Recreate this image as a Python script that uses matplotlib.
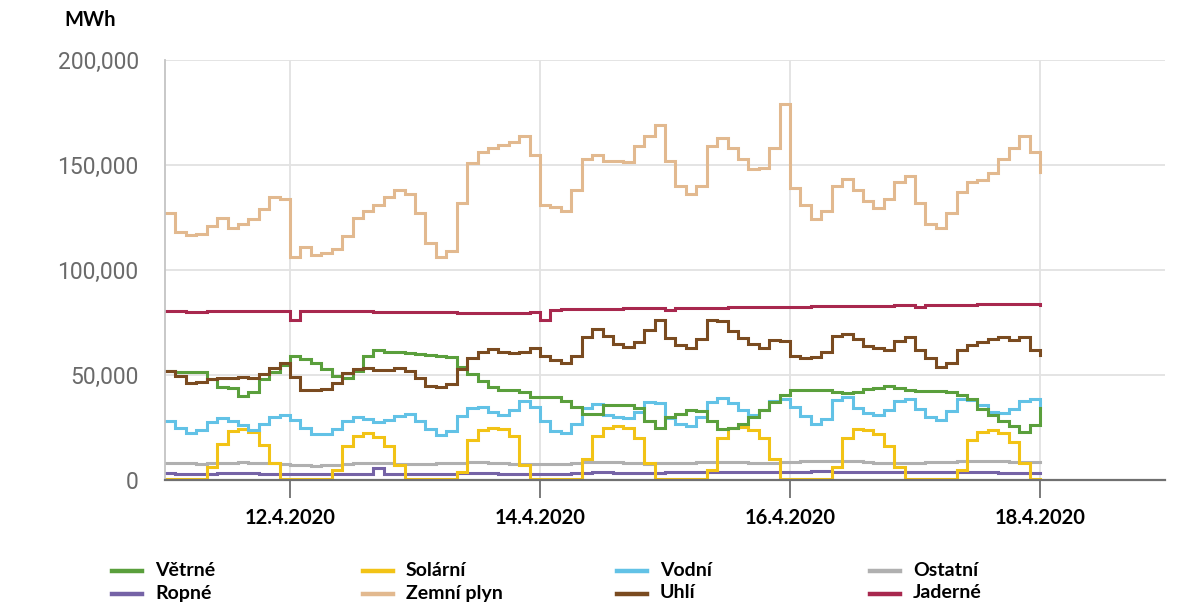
# -*- coding:utf-8 -*-
import numpy as np
import pandas as pd
import matplotlib
matplotlib.use('Agg')
import matplotlib.pyplot as plt
from matplotlib.lines import Line2D
from matplotlib.ticker import FuncFormatter

plt.rcParams['font.family'] = ['Lato', 'DejaVu Sans']

# 2-hodinové hodnoty od 11.4.2020 00:00 do 18.4.2020 00:00, v tisících MWh
start = '2020-04-11 00:00'

vetrne = [52.0, 51.4, 51.4, 51.4, 48.0, 44.5, 43.8, 40.0, 42.0, 48.0, 51.5, 55.0,
          59.0, 57.5, 55.5, 53.0, 49.5, 48.6, 52.0, 59.0, 61.9, 61.0, 61.0, 60.5,
          60.0, 59.5, 59.0, 58.5, 54.0, 50.5, 47.0, 44.5, 43.0, 43.0, 42.0, 39.5,
          39.5, 39.5, 37.5, 35.0, 31.5, 31.5, 35.5, 35.7, 35.7, 34.5, 28.0, 25.0,
          30.0, 31.5, 33.5, 33.0, 28.0, 24.5, 25.0, 26.5, 30.0, 33.5, 37.0, 40.5,
          43.0, 43.0, 42.9, 42.9, 42.0, 41.4, 42.0, 43.3, 44.0, 45.0, 44.0, 42.9,
          42.5, 42.4, 42.2, 41.9, 40.5, 38.5, 34.0, 31.0, 28.0, 25.5, 23.0, 26.0,
          34.5]

solarni = [0.5, 0.5, 0.5, 0.5, 6.0, 17.0, 23.5, 24.5, 23.0, 16.5, 8.0, 0.5,
           0.5, 0.5, 0.5, 0.5, 5.0, 16.0, 21.0, 22.4, 20.5, 16.0, 7.0, 0.5,
           0.5, 0.5, 0.5, 0.5, 4.0, 19.0, 24.0, 25.0, 24.5, 21.0, 7.0, 0.5,
           0.5, 0.5, 0.5, 0.5, 10.0, 21.0, 25.0, 25.7, 25.0, 20.0, 8.0, 0.5,
           0.5, 0.5, 0.5, 0.5, 5.0, 20.0, 25.0, 25.2, 24.0, 20.0, 10.0, 0.5,
           0.5, 0.5, 0.5, 0.5, 6.0, 20.0, 24.5, 24.0, 22.0, 16.0, 6.0, 0.5,
           0.5, 0.5, 0.5, 0.5, 5.0, 19.0, 23.0, 23.8, 22.5, 18.0, 8.0, 0.5,
           0.5]

vodni = [28.0, 25.0, 22.5, 24.0, 27.5, 29.5, 28.0, 26.0, 24.0, 26.5, 30.0, 31.0,
         28.6, 25.0, 22.0, 22.0, 24.5, 28.0, 30.0, 29.0, 27.6, 28.5, 30.5, 31.5,
         28.0, 24.5, 21.5, 23.5, 30.5, 34.5, 35.0, 32.5, 31.0, 33.5, 37.5, 35.0,
         28.0, 23.5, 22.5, 26.5, 34.5, 36.0, 31.0, 30.0, 29.5, 32.5, 37.0, 36.5,
         29.5, 26.5, 25.5, 30.0, 37.0, 39.0, 36.5, 33.5, 31.0, 33.5, 37.5, 38.5,
         35.0, 30.5, 26.5, 29.0, 38.0, 39.5, 34.5, 32.0, 31.0, 33.5, 37.5, 38.5,
         34.0, 30.0, 28.6, 33.0, 38.5, 38.0, 35.5, 32.5, 31.9, 34.0, 37.5, 38.5,
         35.0]

ostatni = [8.3, 8.1, 7.9, 7.8, 7.9, 8.1, 8.3, 8.4, 8.3, 8.1, 7.9, 7.6,
           7.3, 7.0, 6.9, 7.0, 7.3, 7.7, 8.0, 8.2, 8.2, 8.0, 7.8, 7.6,
           7.6, 7.7, 7.9, 8.1, 8.3, 8.4, 8.4, 8.2, 8.0, 7.8, 7.7, 7.6,
           7.5, 7.6, 7.8, 8.1, 8.4, 8.6, 8.6, 8.4, 8.1, 7.9, 7.8, 7.9,
           8.0, 8.1, 8.3, 8.5, 8.7, 8.8, 8.7, 8.5, 8.3, 8.2, 8.3, 8.5,
           8.7, 8.9, 9.1, 9.2, 9.2, 9.1, 8.9, 8.6, 8.3, 8.1, 8.0, 8.1,
           8.2, 8.4, 8.6, 8.8, 9.0, 9.1, 9.1, 9.0, 8.9, 8.8, 8.7, 8.6,
           8.6]

ropne = [3.2, 3.1, 3.0, 3.0, 3.1, 3.2, 3.3, 3.3, 3.2, 3.1, 3.0, 2.9,
         2.8, 2.7, 2.7, 2.8, 2.9, 3.0, 3.1, 3.1, 5.7, 3.0, 2.9, 2.8,
         2.8, 2.9, 3.0, 3.1, 3.2, 3.3, 3.3, 3.2, 3.1, 3.0, 2.9, 2.9,
         2.9, 3.0, 3.1, 3.2, 3.4, 3.6, 3.6, 3.5, 3.4, 3.3, 3.4, 3.5,
         3.6, 3.7, 3.8, 3.9, 4.0, 4.0, 3.9, 3.8, 3.7, 3.7, 3.8, 3.9,
         4.0, 4.0, 4.1, 4.1, 4.0, 3.9, 3.8, 3.7, 3.6, 3.6, 3.7, 3.8,
         3.9, 4.0, 4.0, 3.9, 3.8, 3.7, 3.6, 3.6, 3.5, 3.5, 3.4, 3.4,
         3.4]

zemni_plyn = [127.0, 118.0, 116.5, 117.0, 121.0, 125.0, 120.0, 122.0, 124.5, 129.0, 135.0, 134.0,
              106.0, 111.0, 107.0, 108.0, 110.0, 116.0, 125.0, 128.0, 131.0, 135.0, 138.0, 136.0,
              127.0, 113.0, 106.0, 109.0, 132.0, 151.0, 156.0, 158.0, 159.5, 161.0, 164.0, 155.0,
              131.0, 130.0, 128.0, 138.0, 153.0, 155.0, 152.0, 152.0, 151.5, 159.0, 164.0, 169.0,
              152.0, 140.0, 136.0, 140.0, 159.0, 163.0, 158.0, 153.0, 148.0, 148.5, 158.0, 179.0,
              139.0, 131.0, 124.5, 128.0, 140.0, 143.5, 138.0, 133.0, 129.5, 134.0, 142.0, 145.0,
              132.0, 122.0, 120.0, 127.0, 137.0, 142.0, 143.0, 146.0, 153.0, 158.0, 164.0, 156.0,
              146.7]

uhli = [52.0, 49.5, 46.0, 46.5, 48.0, 48.5, 48.5, 49.0, 48.5, 50.5, 53.5, 55.5,
        49.0, 43.0, 43.0, 43.5, 46.0, 51.0, 53.0, 53.5, 52.5, 52.5, 53.5, 52.0,
        48.5, 45.0, 44.3, 45.5, 53.0, 58.0, 61.0, 62.5, 61.0, 60.5, 61.0, 63.0,
        59.0, 57.0, 55.5, 59.0, 68.0, 72.0, 68.5, 65.0, 63.5, 65.5, 71.5, 76.0,
        67.5, 64.5, 63.0, 67.0, 76.0, 75.5, 71.0, 67.5, 65.0, 63.0, 66.5, 66.0,
        59.0, 58.3, 58.5, 61.0, 68.5, 69.5, 67.0, 64.0, 63.0, 62.0, 66.0, 68.0,
        62.0, 58.0, 54.0, 55.5, 62.0, 64.3, 65.5, 67.0, 68.0, 66.5, 68.0, 62.0,
        59.5]

jaderne = [80.3, 80.3, 80.2, 80.2, 80.3, 80.4, 80.4, 80.5, 80.5, 80.5, 80.5, 80.4,
           76.3, 80.5, 80.5, 80.4, 80.4, 80.3, 80.3, 80.3, 80.2, 80.2, 80.1, 80.1,
           80.0, 80.0, 79.9, 79.8, 79.7, 79.6, 79.5, 79.5, 79.5, 79.5, 79.6, 79.8,
           76.3, 81.0, 81.2, 81.3, 81.4, 81.5, 81.6, 81.6, 81.7, 81.7, 81.8, 81.8,
           80.8, 81.9, 82.0, 82.0, 82.1, 82.1, 82.2, 82.2, 82.3, 82.3, 82.4, 82.4,
           82.5, 82.6, 82.7, 82.7, 82.8, 82.9, 83.0, 83.0, 83.1, 83.1, 83.2, 83.2,
           82.4, 83.3, 83.3, 83.4, 83.5, 83.5, 83.6, 83.6, 83.7, 83.7, 83.8, 83.8,
           83.5]

# pořadí v legendě po řádcích
series = [
    ('Větrné', vetrne, '#5a9f3c'),
    ('Solární', solarni, '#f2c316'),
    ('Vodní', vodni, '#62c2e6'),
    ('Ostatní', ostatni, '#b0b0b0'),
    ('Ropné', ropne, '#7563a6'),
    ('Zemní plyn', zemni_plyn, '#e2b98f'),
    ('Uhlí', uhli, '#7a4b20'),
    ('Jaderné', jaderne, '#a8284e'),
]

tick_dates = ['2020-04-12', '2020-04-14', '2020-04-16', '2020-04-18']
tick_labels = ['12.4.2020', '14.4.2020', '16.4.2020', '18.4.2020']
y_ticks = [0, 50000, 100000, 150000, 200000]


def main():
    times = pd.date_range(start, periods=len(vetrne), freq='2h')

    fig = plt.figure(figsize=(11.77, 6.08), dpi=100)
    ax = fig.add_axes([0.1402, 0.2105, 0.8496, 0.6908])

    draw_order = ['Ostatní', 'Ropné', 'Solární', 'Vodní', 'Větrné', 'Uhlí', 'Jaderné', 'Zemní plyn']
    lookup = {name: (vals, color) for name, vals, color in series}
    for name in draw_order:
        vals, color = lookup[name]
        ax.plot(times, np.array(vals) * 1000, color=color, lw=2.2,
                drawstyle='steps-post', solid_joinstyle='miter')

    ax.set_xlim(pd.Timestamp('2020-04-11'), pd.Timestamp('2020-04-19'))
    ax.set_ylim(0, 200000)
    ax.set_yticks(y_ticks)
    ax.yaxis.set_major_formatter(FuncFormatter(lambda v, p: f'{int(v):,}'))
    ax.set_xticks([pd.Timestamp(d) for d in tick_dates])
    ax.set_xticklabels(tick_labels)

    ax.grid(True, color='#e2e2e2', lw=1.3)
    ax.set_axisbelow(True)
    for s in ['top', 'right']:
        ax.spines[s].set_visible(False)
    ax.spines['left'].set_color('#c4c4c4')
    ax.spines['left'].set_linewidth(1.3)
    ax.spines['bottom'].set_color('#707070')
    ax.spines['bottom'].set_linewidth(1.6)

    ax.tick_params(axis='y', length=0, pad=19, labelsize=16.5, labelcolor='#6a6a6a')
    ax.tick_params(axis='x', length=13, width=1.3, color='#707070', pad=7,
                   labelsize=14.5)
    for lab in ax.get_xticklabels():
        lab.set_fontweight('bold')
    for lab in ax.get_yticklabels():
        lab.set_family(['Roboto', 'DejaVu Sans'])

    W, H = 1177.0, 608.0
    fig.text(64 / W, 1 - 20 / H, 'MWh', fontsize=14.5, fontweight='bold', va='center', ha='left')

    # legenda ručně, 4 sloupce × 2 řádky
    col_x = [112, 363, 617, 870]
    row_y = [571, 594]
    for k, (name, vals, color) in enumerate(series):
        cx = col_x[k % 4]
        ry = row_y[k // 4]
        fig.add_artist(Line2D([cx / W, (cx + 30) / W], [1 - ry / H, 1 - ry / H],
                              color=color, lw=3.2, transform=fig.transFigure))
        fig.text((cx + 43) / W, 1 - (ry - 1) / H, name, fontsize=14, fontweight='bold',
                 va='center', ha='left')

    fig.savefig('out.png', dpi=100)


if __name__ == '__main__':
    main()
